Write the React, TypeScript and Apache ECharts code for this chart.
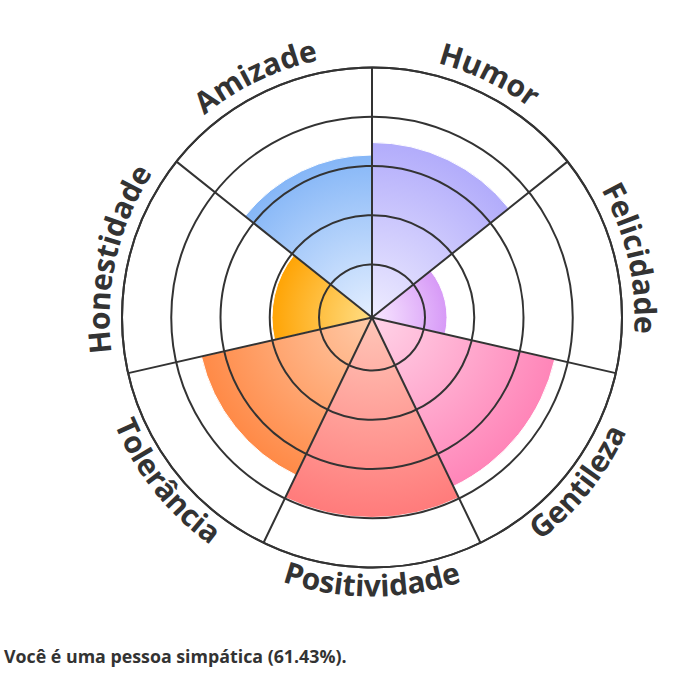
import React, { useEffect, useRef } from "react";
import * as echarts from "echarts";

const categories = ["Humor", "Felicidade", "Gentileza", "Positividade", "Tolerância", "Honestidade", "Amizade"];
const values = [70, 30, 75, 80, 70, 40, 65];
const outerColors = ["#b2acfb", "#d79af7", "#ff85b8", "#ff7b7b", "#ff8a47", "#ffa405", "#85b6f7"];
const innerColors = ["#eeecff", "#f8e8ff", "#ffd4e8", "#ffc6b8", "#ffcaa8", "#ffde85", "#e4efff"];
const ringMin = 20;
const ringMax = 100;
const ringStep = 20;
const summaryText = "Você é uma pessoa simpática (61.43%).";

const CX = 372;
const CY = 317.5;
const R = 250;
const RING0 = 53;
const LABEL_SIZE = 30;
const LABEL_FONT = `bold ${LABEL_SIZE}px "Open Sans"`;
const INK = "#333333";

export default function App() {
  const ref = useRef<HTMLDivElement>(null);

  useEffect(() => {
    if (!ref.current) return;
    const chart = echarts.init(ref.current, null, { renderer: "svg" });
    const n = categories.length;
    const step = 360 / n;
    const ctx = document.createElement("canvas").getContext("2d") as CanvasRenderingContext2D;
    ctx.font = LABEL_FONT;

    const graphics: any[] = [];
    categories.forEach((name, i) => {
      const mid = (i + 0.5) * step;
      const bottom = mid > 100 && mid < 260;
      const chars = Array.from(name);
      const total = ctx.measureText(name).width;
      const rSpace = bottom ? R + 30 : R + 15;
      const rPlace = bottom ? R + 17.5 : R + 24;
      chars.forEach((ch, k) => {
        const prefix = ctx.measureText(chars.slice(0, k).join("")).width;
        const w = ctx.measureText(ch).width;
        const off = prefix + w / 2 - total / 2;
        const dAng = (off / rSpace) * (180 / Math.PI);
        const bearing = ((bottom ? mid - dAng : mid + dAng) * Math.PI) / 180;
        graphics.push({
          type: "text",
          x: CX + rPlace * Math.sin(bearing),
          y: CY - rPlace * Math.cos(bearing),
          rotation: bottom ? Math.PI - bearing : -bearing,
          silent: true,
          z: 20,
          style: {
            text: ch,
            font: LABEL_FONT,
            fill: INK,
            align: "center",
            verticalAlign: "middle",
            textAlign: "center",
            textVerticalAlign: "middle",
          },
        });
      });
    });

    graphics.push({
      type: "text",
      x: 4,
      y: 656,
      silent: true,
      style: {
        text: summaryText,
        font: 'bold 17.8px "Open Sans"',
        fill: INK,
        align: "left",
        verticalAlign: "middle",
        textAlign: "left",
        textVerticalAlign: "middle",
      },
    });

    const data = values.map((v, i) => ({
      value: v,
      itemStyle: {
        color: {
          type: "radial",
          x: CX,
          y: CY,
          r: (v / 100) * R,
          global: true,
          colorStops: [
            { offset: 0, color: innerColors[i] },
            { offset: 1, color: outerColors[i] },
          ],
        },
      },
    }));

    chart.setOption({
      animation: false,
      polar: [
        { center: [CX, CY], radius: [0, R] },
        { center: [CX, CY], radius: [RING0, R] },
      ],
      angleAxis: [
        {
          polarIndex: 0,
          type: "category",
          data: categories,
          startAngle: 90,
          clockwise: true,
          boundaryGap: true,
          z: 10,
          axisLine: { show: true, lineStyle: { color: INK, width: 2 } },
          axisTick: { show: false },
          axisLabel: { show: false },
          splitLine: { show: true, lineStyle: { color: INK, width: 2 } },
        },
        { polarIndex: 1, type: "value", min: 0, max: 360, show: false },
      ],
      radiusAxis: [
        { polarIndex: 0, type: "value", min: 0, max: 100, show: false },
        {
          polarIndex: 1,
          type: "value",
          min: ringMin,
          max: ringMax,
          interval: ringStep,
          z: 10,
          axisLine: { show: false },
          axisTick: { show: false },
          axisLabel: { show: false },
          splitLine: { show: true, lineStyle: { color: INK, width: 2 } },
        },
      ],
      series: [
        {
          type: "bar",
          coordinateSystem: "polar",
          polarIndex: 0,
          barCategoryGap: "0%",
          itemStyle: { borderColor: "#ffffff", borderWidth: 1 },
          data,
        },
      ],
      graphic: graphics,
    });

    return () => chart.dispose();
  }, []);

  return (
    <div
      ref={ref}
      style={{ position: "absolute", left: 0, top: 0, width: 680, height: 680 }}
    />
  );
}
